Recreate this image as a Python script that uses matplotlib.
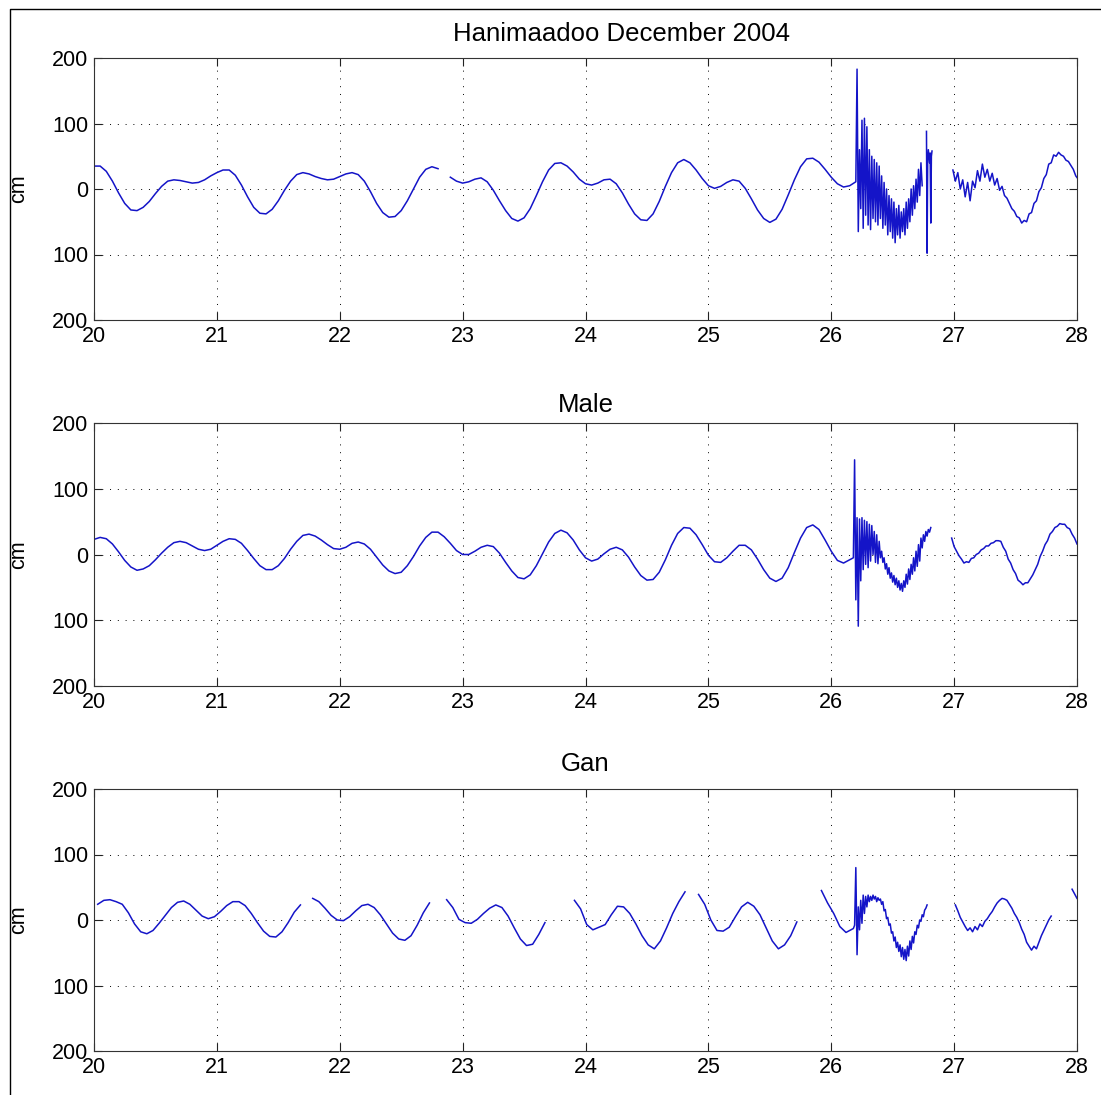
import numpy as np
import matplotlib
matplotlib.use("Agg")
import matplotlib.pyplot as plt
from matplotlib.lines import Line2D

plt.rcParams['font.family'] = ['Liberation Sans', 'DejaVu Sans']

# ---------------- data (cm), time in days of December 2004
# Hanimaadoo
hani_a = [35, 35, 27, 12, -6, -22, -32, -33, -28, -19, -7, 4, 12, 14, 13, 11, 9, 10, 14, 20,
          25, 29, 29, 21, 6, -12, -28, -37, -38, -31, -18, -2, 12, 22, 25, 23, 19, 16, 14, 15,
          19, 23, 25, 22, 12, -4, -22, -36, -43, -42, -33, -18, 0, 18, 30, 34, 31]
hani_b = [18, 12,
          9, 11, 15, 17, 11, -2, -18, -33, -45, -49, -44, -30, -10, 11, 29, 39, 40, 35, 26, 15,
          8, 6, 9, 14, 15, 8, -6, -23, -38, -47, -48, -38, -19, 4, 25, 40, 45, 40, 29, 16,
          5, 1, 4, 10, 14, 12, 1, -15, -32, -45, -51, -46, -31, -9, 14, 34, 46, 47, 41, 30,
          18, 8, 3, 5, 11]
hani_burst = [183, -65, 60, -30, 105, -60, 108, -40, 95, -55, 60, -62, 50, -45, 45, -50, 40, -55,
              35, -45, 20, -60, 10, -55, 0, -70, -10, -65, -15, -75, -20, -82, -30, -70, -25, -75,
              -35, -65, -30, -70, -20, -60, -15, -50, 0, -40, 5, -30, 15, -20, 30, -10, 40, 5]
hani_spike_t = [26.775, 26.78, 26.785, 26.79, 26.80, 26.805, 26.81, 26.815, 26.82]
hani_spike = [88, -98, 45, 60, 40, 55, -52, 50, 58]
hani_late = [29, 12, 25, 0, 14, -12, 10, -18, 12, 2, 28, 12, 38, 18, 30, 12, 24, 6, 16, -2,
             4, -10, -14, -22, -30, -34, -42, -44, -52, -48, -50, -38, -36, -22, -18, -4, 2, 16,
             22, 38, 40, 52, 50, 56, 52, 50, 44, 42, 36, 30, 20, 15]

# Male
male_a = [23, 26, 24, 16, 4, -9, -19, -24, -22, -17, -8, 2, 11, 18, 20, 18, 13, 8, 6, 8,
          14, 20, 24, 23, 17, 6, -6, -17, -23, -23, -17, -6, 8, 20, 29, 31, 28, 22, 15, 9,
          8, 11, 17, 19, 16, 8, -4, -16, -25, -29, -27, -17, -3, 13, 26, 34, 34, 27, 17, 6,
          0, 0, 5, 11, 14, 12, 2, -12, -25, -35, -37, -31, -17, 1, 19, 32, 37, 33, 22, 7,
          -5, -10, -7, 1, 8, 11, 7, -4, -19, -32, -39, -38, -27, -8, 14, 32, 41, 40, 30, 15,
          -1, -11, -12, -5, 5, 14, 14, 7, -7, -23, -36, -41, -36, -20, 3, 25, 41, 45, 38, 22,
          5, -9, -13, -8]
male_burst = [-5, 144, -69, 56, -109, 54, -40, 56, -23, 52, -15, 50, -20, 46, -10, 44, 0, 35,
              -12, 30, -14, 20, -5, 5, -12, -5, -22, -14, -30, -20, -36, -28, -42, -32, -46, -36,
              -50, -40, -54, -44, -56, -40, -50, -30, -45, -22, -38, -15, -30, -5, -25, 5, -18, 15,
              -10, 25, 10, 30, 20, 35, 28, 38, 34, 41]
male_late = [25, 12, 5, -2, -7, -13, -11, -12, -6, -5, 0, 2, 7, 9, 13, 13, 17, 18, 21, 21,
             20, 11, 5, -7, -13, -23, -29, -39, -42, -46, -43, -43, -37, -31, -23, -15, -3, 5,
             15, 21, 31, 35, 41, 43, 47, 46, 46, 41, 39, 31, 25, 16]

# Gan
gan_a = [24, 30, 31, 28, 24, 11, -6, -18, -21, -16, -5, 7, 19, 27, 29, 24, 15, 6, 2, 5,
         13, 22, 28, 28, 22, 10, -4, -17, -25, -26, -18, -4, 12, 23]
gan_b = [33, 28, 18, 7, 0, -1, 5, 14, 22, 24, 19, 8, -6, -20, -29, -31, -24, -8, 11, 26]
gan_c = [31, 19, 1, -4, -5, 1, 10, 18, 23, 19, 6, -12, -29, -39, -37, -22, -4]
gan_d = [30, 17, -7, -15, -11, -7, 8, 21, 20, 10, -6, -24, -38, -44, -32, -12, 10, 28, 43]
gan_e = [39, 24, 0, -16, -17, -11, 5, 20, 27, 21, 8, -12, -32, -44, -38, -24, -3]
gan_f = [45, 26, 10, -10, -19, -14]
gan_burst = [-13, -8, 80, -53, 20, -15, 30, -5, 38, 10, 36, 20, 38, 28, 36, 30, 38, 32, 36, 28,
             34, 30, 32, 24, 28, 14, 16, 2, 4, -8, -6, -20, -18, -32, -26, -42, -34, -48, -38, -56,
             -42, -60, -45, -62, -40, -55, -32, -45, -25, -35, -18, -22, -8, -12, 0, -2, 8, 5,
             15, 18, 23]
gan_g = [23, 14, 4, -3, -10, -16, -12, -18, -10, -15, -6, -10, -2, 2, 8, 13, 20, 26, 30, 33,
         32, 30, 24, 18, 10, 4, -4, -14, -22, -34, -40, -46, -40, -44, -34, -24, -16, -8, 0, 6]
gan_h = [47, 40, 33]

titles = ["Hanimaadoo December 2004", "Male", "Gan"]
x_ticks = [20, 21, 22, 23, 24, 25, 26, 27, 28]
y_ticks = [-200, -100, 0, 100, 200]
y_ticklabels = ["200", "100", "0", "100", "200"]


def days(t0, step, vals):
    return t0 + step * np.arange(len(vals))


def join(segments):
    # put NaN between the pieces so the recorder gaps stay open
    ts, vs = [], []
    for t, v in segments:
        ts.extend(list(t) + [np.nan])
        vs.extend(list(v) + [np.nan])
    return np.array(ts, float), np.array(vs, float)


hani = join([
    (days(20.00, 0.05, hani_a), hani_a),
    (np.r_[days(22.90, 0.05, hani_b), days(26.21, 0.01, hani_burst)], hani_b + hani_burst),
    (hani_spike_t, hani_spike),
    (days(26.99, 0.02, hani_late), hani_late),
])
male = join([
    (np.r_[days(20.00, 0.05, male_a), days(26.18, 0.01, male_burst)], male_a + male_burst),
    (days(26.98, 0.02, male_late), male_late),
])
gan = join([
    (days(20.03, 0.05, gan_a), gan_a),
    (days(21.78, 0.05, gan_b), gan_b),
    (days(22.87, 0.05, gan_c), gan_c),
    (days(23.91, 0.05, gan_d), gan_d),
    (days(24.92, 0.05, gan_e), gan_e),
    (np.r_[days(25.92, 0.05, gan_f), days(26.18, 0.01, gan_burst)], gan_f + gan_burst),
    (days(27.01, 0.02, gan_g), gan_g),
    (days(27.96, 0.02, gan_h), gan_h),
])

fig = plt.figure(figsize=(11.01, 10.95), dpi=100)
W, H = 1101.0, 1095.0
boxes = [(58, 320), (423, 686), (789, 1051)]   # top / bottom pixel rows
left, right = 94, 1077
title_x = [0.537, 0.5, 0.5]
title_pad = [12.5, 8, 13]

for i, ((t, v), (top, bot)) in enumerate(zip([hani, male, gan], boxes)):
    ax = fig.add_axes([left / W, 1 - bot / H, (right - left) / W, (bot - top) / H])
    ax.plot(t, v, color='#1414c8', lw=1.1)
    ax.set_xlim(20, 28)
    ax.set_ylim(-200, 200)
    ax.set_xticks(x_ticks)
    ax.set_xticklabels([str(x) for x in x_ticks])
    ax.set_yticks(y_ticks)
    ax.set_yticklabels(y_ticklabels)
    ax.grid(True, color='k', lw=0.7, linestyle=(0, (1, 7)))
    ax.tick_params(direction='in', length=6, width=0.8, top=True, right=True,
                   labelsize=15.5, pad=4, colors='#222222', labelcolor='k')
    for s in ax.spines.values():
        s.set_color('#333333')
        s.set_linewidth(0.8)
    ax.set_ylabel('cm', fontsize=15.5, va='center')
    ax.yaxis.set_label_coords(-0.077, 0.5)
    ax.set_title(titles[i], fontsize=18.5, x=title_x[i], pad=title_pad[i])

# thin frame at the left and top of the page
fig.add_artist(Line2D([10 / W, 10 / W, 1], [0, 1 - 9 / H, 1 - 9 / H],
                      transform=fig.transFigure, color='k', lw=1.0))

fig.savefig('out.png', dpi=100)
